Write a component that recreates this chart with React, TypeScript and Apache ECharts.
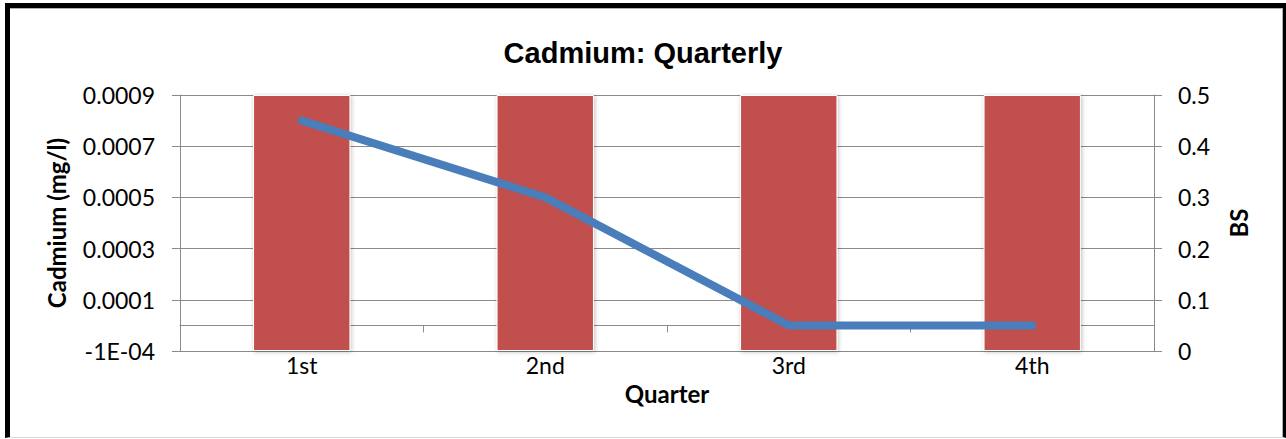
import React, { useEffect, useRef } from "react";
import * as echarts from "echarts";

const quarters = ["1st", "2nd", "3rd", "4th"];
const cadmium = [0.0008, 0.0005, 0, 0];
const bs = [0.5, 0.5, 0.5, 0.5];
const cadmiumTicks = [-0.0001, 0.0001, 0.0003, 0.0005, 0.0007, 0.0009];
const cadmiumTickLabels = ["-1E-04", "0.0001", "0.0003", "0.0005", "0.0007", "0.0009"];
const bsTicks = [0, 0.1, 0.2, 0.3, 0.4, 0.5];
const bsTickLabels = ["0", "0.1", "0.2", "0.3", "0.4", "0.5"];

const GRID = "#8a8a8a";
const FONT = "Lato";

export default function App() {
  const ref = useRef<HTMLDivElement>(null);

  useEffect(() => {
    if (!ref.current) return;
    const chart = echarts.init(ref.current, undefined, { renderer: "svg" });
    const labelOf = (ticks: number[], labels: string[]) => (v: number) => {
      const i = ticks.findIndex((t) => Math.abs(t - v) < 1e-9);
      return i >= 0 ? labels[i] : "";
    };
    chart.setOption({
      animation: false,
      title: {
        text: "Cadmium: Quarterly",
        left: "center",
        top: 33,
        textStyle: { fontFamily: "Liberation Sans", fontWeight: "bold", fontSize: 29, color: "#000" },
      },
      grid: { left: 180, right: 132, top: 95, bottom: 88, containLabel: false, outerBoundsMode: "none" },
      xAxis: [
        {
          type: "category",
          data: quarters,
          position: "bottom",
          axisLine: { show: true, onZero: true, onZeroAxisIndex: 0, lineStyle: { color: GRID, width: 1 } },
          axisTick: { show: true, alignWithLabel: false, length: 7, lineStyle: { color: GRID } },
          axisLabel: { show: false },
          splitLine: { show: false },
        },
        {
          type: "category",
          data: quarters,
          position: "bottom",
          axisLine: { show: false, onZero: false },
          axisTick: { show: false },
          axisLabel: { show: true, margin: 2, fontFamily: FONT, fontSize: 23, color: "#000" },
          name: "Quarter",
          nameLocation: "middle",
          nameGap: 30,
          nameTextStyle: { fontFamily: FONT, fontWeight: "bold", fontSize: 24, color: "#000" },
        },
      ],
      yAxis: [
        {
          type: "value",
          position: "left",
          min: -0.0001,
          max: 0.0009,
          interval: 0.0001,
          axisLine: { show: true, lineStyle: { color: GRID } },
          axisTick: { show: false },
          splitLine: { show: false },
          axisLabel: {
            margin: 25,
            fontFamily: FONT,
            fontSize: 23,
            color: "#000",
            formatter: labelOf(cadmiumTicks, cadmiumTickLabels),
          },
          name: "Cadmium (mg/l)",
          nameLocation: "middle",
          nameRotate: 90,
          nameGap: 112,
          nameTextStyle: { fontFamily: FONT, fontWeight: "bold", fontSize: 24, color: "#000" },
        },
        {
          type: "value",
          position: "right",
          min: 0,
          max: 0.5,
          interval: 0.1,
          axisLine: { show: true, lineStyle: { color: GRID } },
          axisTick: { show: true, length: 8, lineStyle: { color: GRID } },
          splitLine: { show: true, lineStyle: { color: GRID, width: 1 } },
          axisLabel: {
            margin: 24,
            fontFamily: FONT,
            fontSize: 23,
            color: "#000",
            formatter: labelOf(bsTicks, bsTickLabels),
          },
          name: "BS",
          nameLocation: "middle",
          nameRotate: 90,
          nameGap: 72,
          nameTextStyle: { fontFamily: FONT, fontWeight: "bold", fontSize: 24, color: "#000" },
        },
        {
          type: "value",
          position: "left",
          min: 0,
          max: 0.5,
          interval: 0.1,
          axisLine: { show: false },
          axisTick: { show: true, length: 8, lineStyle: { color: GRID } },
          splitLine: { show: false },
          axisLabel: { show: false },
        },
      ],
      series: [
        {
          name: "BS",
          type: "bar",
          xAxisIndex: 0,
          yAxisIndex: 1,
          data: bs,
          barWidth: "40%",
          itemStyle: {
            color: "#C0504D",
            borderColor: "#ffffff",
            borderWidth: 1,
            shadowBlur: 4,
            shadowColor: "rgba(0,0,0,0.25)",
            shadowOffsetX: 1,
            shadowOffsetY: 1,
          },
          z: 2,
        },
        {
          name: "Cadmium",
          type: "line",
          xAxisIndex: 0,
          yAxisIndex: 0,
          data: cadmium,
          symbol: "none",
          lineStyle: { color: "#4A7EBB", width: 8, cap: "round", join: "round" },
          z: 4,
        },
      ],
    });
    return () => chart.dispose();
  }, []);

  return (
    <div style={{ position: "fixed", left: 0, top: 0, width: 1286, height: 439, background: "#fff", overflow: "hidden" }}>
      <div
        style={{
          position: "absolute",
          left: 5,
          top: 3,
          width: 1281,
          height: 435,
          boxSizing: "border-box",
          borderLeft: "5px solid #000",
          borderTop: "5px solid #000",
          borderRight: "3px solid #000",
          borderBottom: "1px solid #d9d9d9",
        }}
      >
        <div
          style={{
            position: "absolute",
            left: 0,
            top: 0,
            right: 0,
            bottom: 0,
            borderTop: "1px solid #b0b0b0",
            borderRight: "1px solid #b0b0b0",
          }}
        />
      </div>
      <div ref={ref} style={{ position: "absolute", left: 0, top: 0, width: 1286, height: 439 }} />
    </div>
  );
}
